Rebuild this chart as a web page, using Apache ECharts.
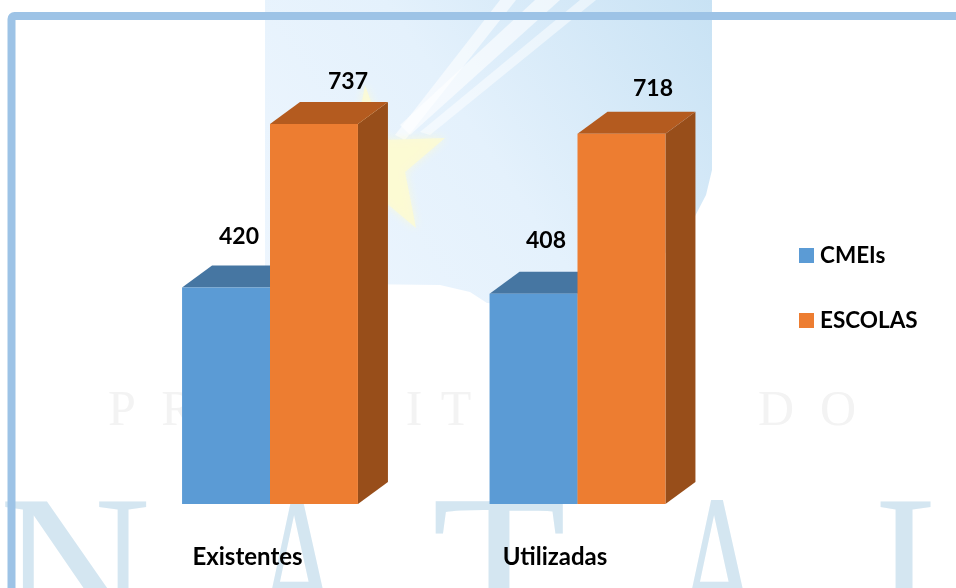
<!DOCTYPE html>
<html>
<head>
<meta charset="utf-8">
<script src="https://cdn.jsdelivr.net/npm/echarts@6/dist/echarts.min.js"></script>
<style>
html, body { margin: 0; padding: 0; background: #fff; }
#chart { width: 956px; height: 588px; }
</style>
</head>
<body>
<div id="chart"></div>
<script>
const categories = ["Existentes", "Utilizadas"];
const cmeis = [420, 408];
const escolas = [737, 718];

const font = "Lato";
let myChart = echarts.init(document.getElementById("chart"));

// fake 3d box, front face comes from the axes, depth is fixed like in the original
function box_renderer(front, top, side, offset, labelOffsets)
{
    return function (params, api) {
        let cat = api.value(0);
        let val = api.value(1);
        let end = api.coord([cat, val]);
        let start = api.coord([cat, 0]);
        let w = api.size([1, 0])[0] * 0.286;
        let x0 = end[0] + offset * w;
        let x1 = x0 + w;
        let dx = 30, dy = 22;
        let lab = labelOffsets[params.dataIndex];
        return {
            type: "group",
            children: [
                { type: "polygon", shape: { points: [[x1, end[1]], [x1 + dx, end[1] - dy], [x1 + dx, start[1] - dy], [x1, start[1]]] }, style: { fill: side } },
                { type: "polygon", shape: { points: [[x0, end[1]], [x0 + dx, end[1] - dy], [x1 + dx, end[1] - dy], [x1, end[1]]] }, style: { fill: top } },
                { type: "rect", shape: { x: x0, y: end[1], width: w, height: start[1] - end[1] }, style: { fill: front } },
                { type: "text", x: x0 + w / 2 + lab[0], y: end[1] + lab[1], style: { text: String(val), fill: "#000", font: "bold 23px " + font, textAlign: "center", textVerticalAlign: "middle" } }
            ]
        };
    };
}

// background picture of the slide (shield, star, rays, lettering)
let background = [
    {
        type: "polygon", silent: true, z: 0,
        shape: { points: [[265, 0], [712, 0], [712, 170], [706, 195], [692, 222], [672, 248], [645, 268], [610, 285], [575, 298], [530, 305], [487, 303], [470, 292], [440, 285], [265, 283]] },
        style: { fill: new echarts.graphic.LinearGradient(0, 1, 1, 0, [
            { offset: 0, color: "#eef6fe" },
            { offset: 0.5, color: "#e4f1fc" },
            { offset: 1, color: "#c8e2f4" }
        ]) }
    },
    { type: "polygon", silent: true, z: 0, shape: { points: [[395, 135], [500, 0], [516, 0], [405, 140]] }, style: { fill: "#ffffff", opacity: 0.6 } },
    { type: "polygon", silent: true, z: 0, shape: { points: [[400, 125], [535, 0], [560, 0], [410, 135]] }, style: { fill: "#ffffff", opacity: 0.6 } },
    { type: "polygon", silent: true, z: 0, shape: { points: [[420, 132], [580, 0], [596, 0], [430, 135]] }, style: { fill: "#ffffff", opacity: 0.5 } },
    {
        type: "polygon", silent: true, z: 0,
        shape: { points: [[365, 85], [385, 140], [445, 138], [405, 172], [416, 228], [378, 196], [340, 225], [350, 170], [315, 140], [355, 140]] },
        style: { fill: "#fdfbd0", opacity: 0.75, shadowBlur: 8, shadowColor: "#fdfbd0" }
    }
];

const bigLetters = [["N", 75, 1], ["A", 298, 0.6], ["T", 499, 1.05], ["A", 718, 0.6], ["L", 930, 0.85]];
bigLetters.forEach(l => {
    background.push({
        type: "text", silent: true, z: 0, x: l[1], y: 479, scaleX: l[2],
        style: { text: l[0], fill: "#d4e6f1", font: "210px 'Liberation Serif'", textAlign: "center", textVerticalAlign: "top" }
    });
});

const smallLetters = [["P", 122], ["R", 178], ["E", 236], ["F", 290], ["E", 345], ["I", 414], ["T", 456], ["U", 510], ["R", 570], ["A", 630], ["D", 776], ["O", 838]];
smallLetters.forEach(l => {
    background.push({
        type: "text", silent: true, z: 0, x: l[1], y: 412,
        style: { text: l[0], fill: "#f3f3f3", font: "50px 'Liberation Serif'", textAlign: "center", textVerticalAlign: "middle" }
    });
});

// frame runs off the right and bottom edges
background.push({
    type: "rect", silent: true, z: 1,
    shape: { x: 11.5, y: 16, width: 1000, height: 700, r: 3 },
    style: { fill: "transparent", stroke: "#9DC3E6", lineWidth: 8 }
});

let option = {
    animation: false,
    backgroundColor: "#fff",
    graphic: background,
    grid: { left: 116.25, width: 615, top: 91.6, height: 412.4, containLabel: false },
    legend: {
        orient: "vertical",
        left: 794,
        top: 239,
        icon: "rect",
        itemWidth: 15,
        itemHeight: 15,
        itemGap: 42,
        selectedMode: false,
        textStyle: { color: "#000", fontFamily: font, fontWeight: "bold", fontSize: 22.5, padding: [0, 0, 0, 1] },
        data: ["CMEIs", "ESCOLAS"]
    },
    xAxis: {
        type: "category",
        data: categories,
        axisLine: { show: false },
        axisTick: { show: false },
        axisLabel: { margin: 41, color: "#000", fontFamily: font, fontWeight: "bold", fontSize: 24, padding: [0, 45, 0, 0] }
    },
    yAxis: { type: "value", min: 0, max: 800, show: false },
    series: [
        {
            name: "CMEIs",
            type: "custom",
            z: 3,
            clip: false,
            itemStyle: { color: "#5B9BD5" },
            encode: { x: 0, y: 1 },
            data: cmeis.map((v, i) => [i, v]),
            renderItem: box_renderer("#5B9BD5", "#4676A2", "#4676A2", -1, [[13, -51], [12.5, -53]])
        },
        {
            name: "ESCOLAS",
            type: "custom",
            z: 4,
            clip: false,
            itemStyle: { color: "#ED7D31" },
            encode: { x: 0, y: 1 },
            data: escolas.map((v, i) => [i, v]),
            renderItem: box_renderer("#ED7D31", "#B45B1F", "#984E1A", 0, [[34, -42.5], [31.5, -45]])
        }
    ]
};
myChart.setOption(option);
</script>
</body>
</html>
